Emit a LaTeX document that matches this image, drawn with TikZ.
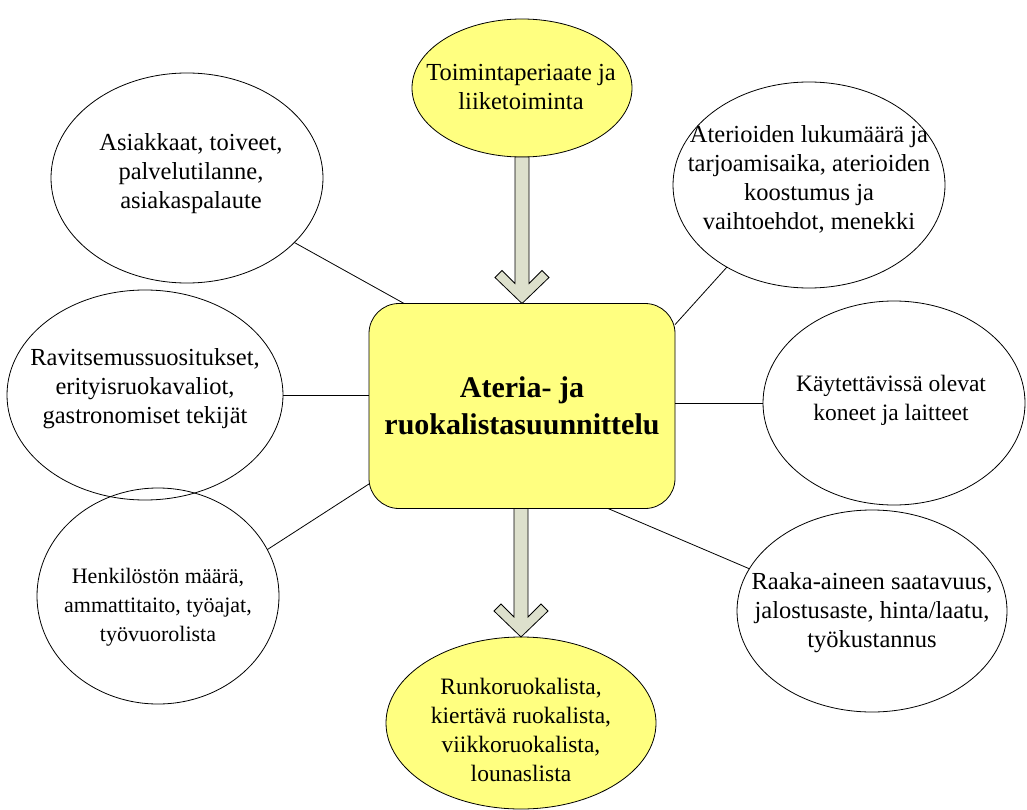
\documentclass[tikz,border=0pt]{standalone}
\usepackage{fontspec}
\setmainfont{Liberation Serif}
\usepackage{tikz}
\usetikzlibrary{calc}
\usetikzlibrary{shapes.geometric}
\definecolor{lightyellow}{RGB}{255,255,128}
\definecolor{arrowgrey}{RGB}{221,224,204}
\newcommand{\bigarrow}[2]{%
  \draw[arrowbox] let \p1=(#1.south), \p2=(#2.north) in
    (\x2-7pt,\y1) -- (\x2-7pt,\y2+20pt) -- (\x2-20pt,\y2+33pt) -- (\x2-27pt,\y2+26pt)
    -- (\x2,\y2) -- (\x2+27pt,\y2+26pt) -- (\x2+20pt,\y2+33pt) -- (\x2+7pt,\y2+20pt)
    -- (\x2+7pt,\y1) -- cycle;}

\begin{document}
\begin{tikzpicture}[x=1pt, y=-1pt,
    bubble/.style={draw, ellipse, inner sep=0pt, outer sep=0pt, line width=0.8pt},
    bubbletext/.style={align=center, font=\fontsize{#1}{29}\selectfont, inner sep=0pt},
    bubbletext/.default=24.5,
    arrowbox/.style={draw, fill=arrowgrey, line width=0.8pt, line join=miter},
    link/.style={draw, line width=0.8pt}]
    \useasboundingbox (0,0) rectangle (1027,810);

    \node[bubble, fill=lightyellow, minimum width=220pt, minimum height=138pt] (toim) at (522, 88) {};
    \node[bubbletext] (toim-t) at (521, 87) {Toimintaperiaate ja\\liiketoiminta};

    \node[bubble, minimum width=272pt, minimum height=210pt] (asiak) at (187, 178) {};
    \node[bubbletext] (asiak-t) at (191, 174) {Asiakkaat, toiveet,\\palvelutilanne,\\asiakaspalaute};

    \node[bubble, minimum width=272pt, minimum height=206pt] (ater) at (809, 185) {};
    \node[bubbletext] (ater-t) at (809, 179) {Aterioiden lukumäärä ja\\tarjoamisaika, aterioiden\\koostumus ja\\vaihtoehdot, menekki};

    \node[bubble, minimum width=276pt, minimum height=210pt] (ravit) at (145, 395) {};
    \node[bubbletext] (ravit-t) at (145, 389) {Ravitsemussuositukset,\\erityisruokavaliot,\\gastronomiset tekijät};

    \node[bubble, minimum width=262pt, minimum height=204pt] (kayt) at (894, 403) {};
    \node[bubbletext=23.5] (kayt-t) at (891, 400) {Käytettävissä olevat\\koneet ja laitteet};

    \node[bubble, minimum width=242pt, minimum height=216pt] (henk) at (158, 596) {};
    \node[bubbletext=22] (henk-t) at (158, 607) {Henkilöstön määrä,\\ammattitaito, työajat,\\työvuorolista};

    \node[bubble, minimum width=270pt, minimum height=202pt] (raaka) at (872, 611) {};
    \node[bubbletext] (raaka-t) at (872, 613) {Raaka-aineen saatavuus,\\jalostusaste, hinta/laatu,\\työkustannus};

    \node[bubble, fill=lightyellow, minimum width=270pt, minimum height=172pt] (runko) at (521, 723) {};
    \node[bubbletext=23.5] (runko-t) at (521, 730) {Runkoruokalista,\\kiertävä ruokalista,\\viikkoruokalista,\\lounaslista};

    \node[draw, fill=lightyellow, rounded corners=30pt, line width=0.8pt, inner sep=0pt, outer sep=0pt,
          minimum width=306pt, minimum height=205pt, align=center,
          font=\bfseries\fontsize{30}{37}\selectfont] (plan) at (522, 406) {Ateria- ja\\ruokalistasuunnittelu};

    \draw[link] (asiak.-31.5) -- (plan.139.8);
    \draw[link] (ater.225.7) -- (plan.28.8);
    \draw[link] (ravit.east) -- (ravit.east -| plan.west);
    \draw[link] (kayt.west -| plan.east) -- (kayt.west);
    \draw[link] (henk.23.7) -- (plan.207);
    \draw[link] (raaka.161) -- (plan.-50.5);

    \bigarrow{toim}{plan}
    \bigarrow{plan}{runko}
\end{tikzpicture}
\end{document}
